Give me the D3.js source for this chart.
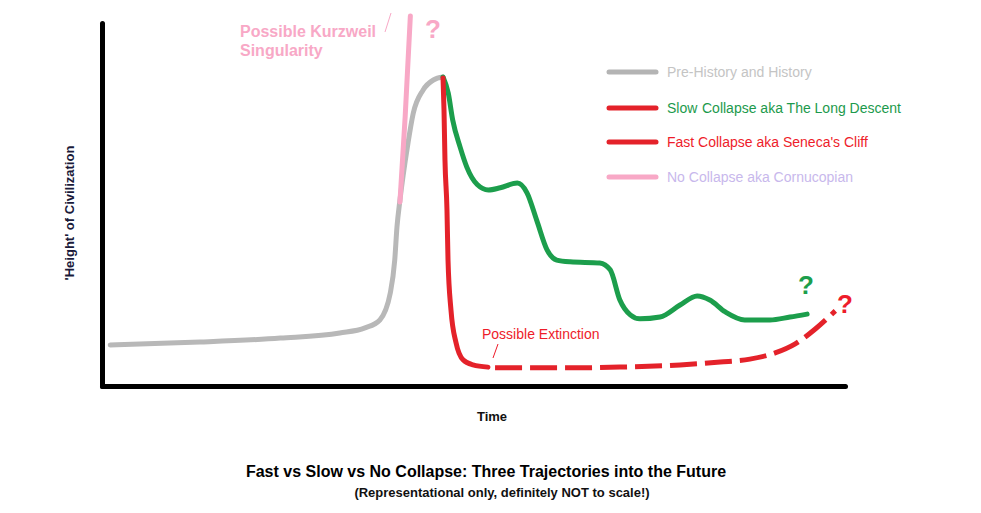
<!DOCTYPE html>
<html>
<head>
<meta charset="utf-8">
<script src="https://cdn.jsdelivr.net/npm/d3@7"></script>
<style>
  body { margin: 0; background: #fff; }
  svg { display: block; font-family: "Liberation Sans", Arial, sans-serif; }
</style>
</head>
<body>
<div class="chart"></div>
<script>
// chart size
const WIDTH = 981;
const HEIGHT = 513;

// series values, time (0-100) vs "height" (0-100)
const historyTime   = [1.1, 13.2, 24.0, 32.0, 35.4, 37.4, 38.8, 39.4, 39.7, 40.1, 41.1, 41.9, 43.2, 44.6, 45.9];
const historyHeight = [11.3, 12.1, 13.2, 14.6, 16.0, 18.2, 25.6, 34.7, 43.8, 51.2, 65.8, 75.2, 81.5, 84.3, 85.1];

const kurzweilTime   = [40.1, 40.8, 41.5];
const kurzweilHeight = [50.7, 74.1, 101.9];

const slowTime   = [45.9, 46.6, 47.2, 48.2, 49.1, 50.5, 52.0, 53.6, 55.9, 57.2, 58.5, 59.9, 61.2, 63.0, 67.0, 68.4, 69.7, 71.1, 72.4, 75.1, 77.8, 80.1, 81.8, 83.9, 86.5, 89.9, 92.6, 94.9];
const slowHeight = [85.1, 80.7, 73.3, 65.8, 60.3, 55.5, 54.0, 54.6, 55.9, 53.2, 45.7, 37.5, 34.7, 34.2, 33.9, 32.0, 23.7, 19.6, 18.5, 19.0, 22.3, 24.8, 23.7, 20.4, 18.2, 18.2, 19.0, 19.8];

const fastTime   = [45.9, 46.03, 46.16, 46.43, 46.57, 46.97, 47.65, 48.59, 49.93, 51.95];
const fastHeight = [84.85, 76.0, 62.3, 48.5, 34.7, 20.9, 11.9, 7.2, 5.8, 5.2];

const extinctionTime   = [52.9, 61.6, 69.7, 77.8, 83.2, 87.2, 90.6, 93.3, 96.0, 98.7];
const extinctionHeight = [5.0, 5.0, 5.2, 5.8, 6.6, 7.4, 9.1, 11.6, 15.7, 20.7];

// legend
const legendLabels = ["Pre-History and History", "Slow", "Fast Collapse aka Seneca's Cliff", "No Collapse aka Cornucopian"];
const legendLineColors = ["#b4b4b4", "#e4222a", "#e4222a", "#f8a8c6"];
const legendTextColors = ["#c4c4c4", "#1c9a4c", "#ee1c2a", "#c8b8ec"];

const GRAY = "#b8b8b8", RED = "#e4222a", GREEN = "#1c9e4c", PINK = "#f8a8c6";

const xScale = d3.scaleLinear().domain([0, 100]).range([102, 845]);
const yScale = d3.scaleLinear().domain([0, 100]).range([386, 23]);

const svg = d3.select(".chart")
    .append("svg")
    .attr("width", WIDTH)
    .attr("height", HEIGHT);

// axes, no ticks, just heavy black lines
const xAxis = svg.append("g")
    .attr("transform", `translate(0,${yScale(0)})`)
    .call(d3.axisBottom(xScale).tickValues([]).tickSizeOuter(0));
const yAxis = svg.append("g")
    .attr("transform", `translate(${xScale(0)},0)`)
    .call(d3.axisLeft(yScale).tickValues([]).tickSizeOuter(0));
svg.selectAll(".domain")
    .attr("stroke", "#000")
    .attr("stroke-width", 5)
    .attr("stroke-linecap", "round");

function zipSeries(ts, hs) {
    return ts.map((t, i) => [t, hs[i]]);
}

const line = d3.line()
    .x(d => xScale(d[0]))
    .y(d => yScale(d[1]))
    .curve(d3.curveMonotoneX);

function drawSeries(ts, hs, color, dash) {
    svg.append("path")
        .datum(zipSeries(ts, hs))
        .attr("d", line)
        .attr("fill", "none")
        .attr("stroke", color)
        .attr("stroke-width", 5)
        .attr("stroke-linecap", dash ? "butt" : "round")
        .attr("stroke-linejoin", "round")
        .attr("stroke-dasharray", dash || null);
}

drawSeries(historyTime, historyHeight, GRAY);
drawSeries(kurzweilTime, kurzweilHeight, PINK);
drawSeries(slowTime, slowHeight, GREEN);
drawSeries(fastTime, fastHeight, RED);
drawSeries(extinctionTime, extinctionHeight, RED, "27,8");

// legend
const legend = svg.append("g");
legendLabels.forEach((lab, i) => {
    const y = [72, 108, 142, 177][i];
    legend.append("line")
        .attr("x1", 609).attr("x2", 656)
        .attr("y1", y).attr("y2", y)
        .attr("stroke", legendLineColors[i])
        .attr("stroke-width", 5)
        .attr("stroke-linecap", "round");
    legend.append("text")
        .attr("x", 667).attr("y", y + 5)
        .attr("fill", legendTextColors[i])
        .style("font-size", "14px")
        .text(lab);
});
legend.append("text")
    .attr("x", 702).attr("y", 113)
    .attr("fill", "#1c9a4c")
    .style("font-size", "14px")
    .text("Collapse aka The Long Descent");

// annotations
svg.append("text").attr("x", 240).attr("y", 37)
    .attr("fill", PINK).style("font-size", "16px").style("font-weight", "bold")
    .text("Possible Kurzweil");
svg.append("text").attr("x", 240).attr("y", 56)
    .attr("fill", PINK).style("font-size", "16px").style("font-weight", "bold")
    .text("Singularity");
svg.append("line").attr("x1", 385).attr("y1", 32).attr("x2", 391).attr("y2", 13)
    .attr("stroke", PINK).attr("stroke-width", 1);

svg.append("text").attr("x", 482).attr("y", 339)
    .attr("fill", "#ee1c2a").style("font-size", "14px")
    .text("Possible Extinction");
svg.append("line").attr("x1", 493).attr("y1", 358).attr("x2", 498).attr("y2", 344)
    .attr("stroke", "#ee1c2a").attr("stroke-width", 1);

const qMarks = [[433, 38, PINK], [806, 294, GREEN], [845, 313, "#ee1c2a"]];
qMarks.forEach(q => {
    svg.append("text").attr("x", q[0]).attr("y", q[1])
        .attr("text-anchor", "middle")
        .attr("fill", q[2])
        .style("font-size", "26px").style("font-weight", "bold")
        .text("?");
});

// axis titles
svg.append("text")
    .attr("transform", "translate(74,213) rotate(-90)")
    .attr("text-anchor", "middle")
    .attr("fill", "#1a1a3a")
    .style("font-size", "13px").style("font-weight", "bold")
    .text("'Height' of Civilization");
svg.append("text").attr("x", 492).attr("y", 421)
    .attr("text-anchor", "middle").attr("fill", "#111")
    .style("font-size", "13px").style("font-weight", "bold")
    .text("Time");

// title
svg.append("text").attr("x", 486).attr("y", 477)
    .attr("text-anchor", "middle").attr("fill", "#000")
    .style("font-size", "16px").style("font-weight", "bold")
    .text("Fast vs Slow vs No Collapse: Three Trajectories into the Future");
svg.append("text").attr("x", 502).attr("y", 497)
    .attr("text-anchor", "middle").attr("fill", "#111")
    .style("font-size", "13px").style("font-weight", "bold")
    .text("(Representational only, definitely NOT to scale!)");
</script>
</body>
</html>
